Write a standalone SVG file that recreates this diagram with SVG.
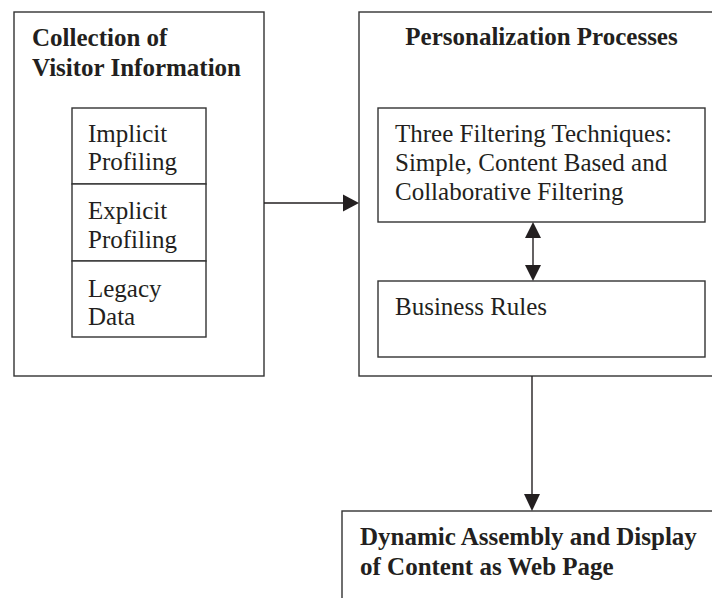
<svg xmlns="http://www.w3.org/2000/svg" width="712" height="598" viewBox="0 0 712 598">
<style>
.box{fill:#fff;stroke:#333;stroke-width:1.4}
.t{font-family:"Liberation Serif","Times New Roman",serif;font-size:25px;fill:#231f20}
.b{font-weight:bold}
.ln{stroke:#231f20;stroke-width:1.4;fill:none}
.ah{fill:#231f20}
</style>
<rect x="0" y="0" width="712" height="598" fill="#fff"/>
<g id="collection">
<rect class="box" x="14" y="12" width="250" height="364"/>
<text class="t b" x="32" y="46">Collection of</text>
<text class="t b" x="32" y="76">Visitor Information</text>
</g>
<g id="implicit">
<rect class="box" x="72" y="108" width="134" height="76"/>
<text class="t" x="88" y="142">Implicit</text>
<text class="t" x="88" y="170">Profiling</text>
</g>
<g id="explicit">
<rect class="box" x="72" y="184" width="134" height="77"/>
<text class="t" x="88" y="219">Explicit</text>
<text class="t" x="88" y="248">Profiling</text>
</g>
<g id="legacy">
<rect class="box" x="72" y="261" width="134" height="76"/>
<text class="t" x="88" y="297">Legacy</text>
<text class="t" x="88" y="325">Data</text>
</g>
<g id="personalization">
<rect class="box" x="359" y="12" width="365" height="364"/>
<text class="t b" x="541.5" y="45" text-anchor="middle">Personalization Processes</text>
</g>
<g id="filtering">
<rect class="box" x="378" y="108" width="327" height="114"/>
<text class="t" x="395" y="142">Three Filtering Techniques:</text>
<text class="t" x="395" y="171">Simple, Content Based and</text>
<text class="t" x="395" y="200">Collaborative Filtering</text>
</g>
<g id="business">
<rect class="box" x="378" y="281" width="327" height="76"/>
<text class="t" x="395" y="315">Business Rules</text>
</g>
<g id="dynamic">
<rect class="box" x="342" y="511" width="400" height="100"/>
<text class="t b" x="360" y="545">Dynamic Assembly and Display</text>
<text class="t b" x="360" y="575">of Content as Web Page</text>
</g>
<g id="connectors">
<line class="ln" x1="264" y1="203" x2="344" y2="203"/>
<polygon class="ah" points="343,194.5 359,203 343,211.5"/>
<line class="ln" x1="533" y1="237" x2="533" y2="266"/>
<polygon class="ah" points="533,222 525,238 541,238"/>
<polygon class="ah" points="525,265 541,265 533,281"/>
<line class="ln" x1="532" y1="376" x2="532" y2="495"/>
<polygon class="ah" points="524,494 540,494 532,511"/>
</g>
</svg>
